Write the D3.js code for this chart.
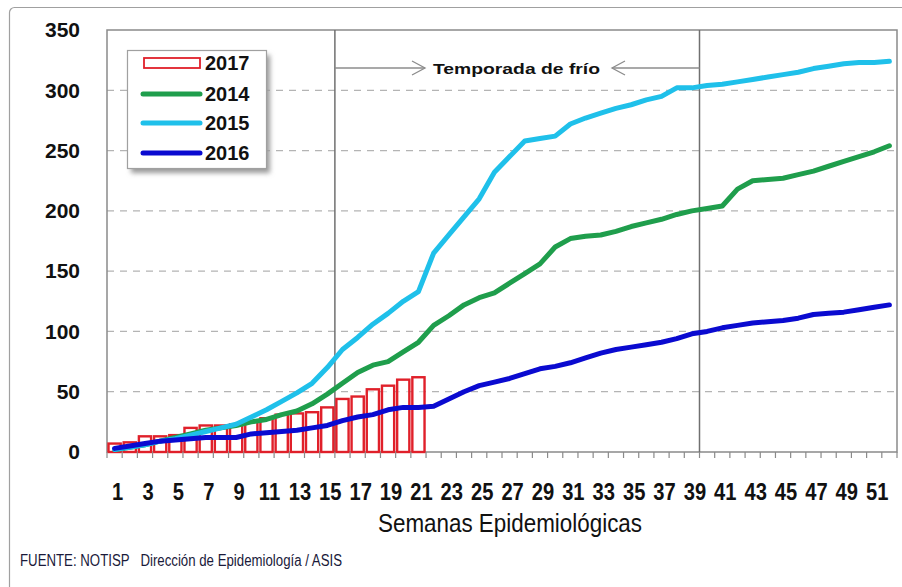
<!DOCTYPE html>
<html><head><meta charset="utf-8">
<script src="https://cdn.jsdelivr.net/npm/d3@7/dist/d3.min.js"></script>
<style>body{margin:0;background:#fff}svg{display:block}</style>
</head><body><div id="chart"></div>
<script>
const weeks = [1,2,3,4,5,6,7,8,9,10,11,12,13,14,15,16,17,18,19,20,21,22,23,24,25,26,27,28,29,30,31,32,33,34,35,36,37,38,39,40,41,42,43,44,45,46,47,48,49,50,51,52];
const xTickLabels = [1,3,5,7,9,11,13,15,17,19,21,23,25,27,29,31,33,35,37,39,41,43,45,47,49,51];
const yTicks = [0,50,100,150,200,250,300,350];
const cases2017 = [7,8,13,13,14,20,22,22,23,25,28,31,32,33,37,44,46,52,55,60,62];
const cases2014 = [2,4,6,9,12,15,18,20,22,25,27,31,34,40,48,57,66,72,75,83,91,105,113,122,128,132,140,148,156,170,177,179,180,183,187,190,193,197,200,202,204,218,225,226,227,230,233,237,241,245,249,254];
const cases2015 = [2,4,6,9,11,14,17,20,23,29,35,42,49,57,70,85,95,106,115,125,133,165,180,195,210,232,245,258,260,262,272,277,281,285,288,292,295,302,302,304,305,307,309,311,313,315,318,320,322,323,323,324];
const cases2016 = [3,5,7,9,10,11,12,12,12,15,16,17,18,20,22,26,29,31,35,37,37,38,44,50,55,58,61,65,69,71,74,78,82,85,87,89,91,94,98,100,103,105,107,108,109,111,114,115,116,118,120,122];
const seasonStartWeek = 16, seasonEndWeek = 40;
const seasonLabel = "Temporada de frío";
const legendLabels = ["2017","2014","2015","2016"];
const xTitle = "Semanas Epidemiológicas";
const sourceNote = "FUENTE: NOTISP   Dirección de Epidemiología / ASIS";

const W = 902, H = 587;
const plot = {l:107, r:897, t:30, b:452};
const col = {bar:"#e0202a", g:"#1f9e4c", c:"#1fc0ea", b:"#0a0ad0"};
const FONT = "'Liberation Sans', Arial, sans-serif";

const svg = d3.select("#chart").append("svg").attr("width",W).attr("height",H)
  .style("font-family",FONT);
svg.append("rect").attr("width",W).attr("height",H).attr("fill","#fff");

// outer frame
svg.append("rect").attr("x",9.5).attr("y",7.5).attr("width",905).attr("height",600)
  .attr("rx",5).attr("fill","none").attr("stroke","#a0a0a0").attr("stroke-width",1.2);

const x = d3.scaleBand().domain(weeks).range([plot.l, plot.r]).paddingInner(0).paddingOuter(0);
const y = d3.scaleLinear().domain([0,350]).range([plot.b, plot.t]);
const cx = w => x(w) + x.bandwidth()/2;

// gridlines
svg.append("g").selectAll("line").data(yTicks.filter(v => v>0 && v<350)).join("line")
  .attr("x1",plot.l).attr("x2",plot.r).attr("y1",d=>y(d)).attr("y2",d=>y(d))
  .attr("stroke","#b4b4b4").attr("stroke-width",1.3).attr("stroke-dasharray","7,6");

// plot border
svg.append("rect").attr("x",plot.l).attr("y",plot.t).attr("width",plot.r-plot.l).attr("height",plot.b-plot.t)
  .attr("fill","none").attr("stroke","#8a8a8a").attr("stroke-width",1.5);

// season vertical lines
svg.append("g").selectAll("line").data([seasonStartWeek, seasonEndWeek]).join("line")
  .attr("x1",d=>x(d)).attr("x2",d=>x(d)).attr("y1",plot.t).attr("y2",plot.b)
  .attr("stroke","#707070").attr("stroke-width",1.5);

// bars 2017
svg.append("g").selectAll("rect").data(cases2017).join("rect")
  .attr("x",(d,i)=>x(weeks[i])+1.5).attr("width",x.bandwidth()-3)
  .attr("y",d=>y(d)).attr("height",d=>y(0)-y(d))
  .attr("fill","#fff").attr("fill-opacity",0.55)
  .attr("stroke",col.bar).attr("stroke-width",2.4);

// lines
const line = d3.line().x((d,i)=>cx(weeks[i])).y(d=>y(d)).curve(d3.curveLinear);
[[cases2014,col.g],[cases2015,col.c],[cases2016,col.b]].forEach(([data,c])=>{
  svg.append("path").datum(data).attr("d",line).attr("fill","none")
    .attr("stroke",c).attr("stroke-width",5).attr("stroke-linejoin","round").attr("stroke-linecap","round");
});

// x boundary ticks
svg.append("g").selectAll("line").data(weeks.concat([null])).join("line")
  .attr("x1",(d,i)=> i<weeks.length ? x(d) : plot.r).attr("x2",(d,i)=> i<weeks.length ? x(d) : plot.r)
  .attr("y1",plot.b).attr("y2",plot.b+6).attr("stroke","#8a8a8a").attr("stroke-width",1.2);

// x axis labels
const xa = svg.append("g").attr("transform",`translate(3,${plot.b})`)
  .call(d3.axisBottom(x).tickValues(xTickLabels).tickSize(0).tickPadding(31));
xa.select(".domain").remove();
xa.selectAll("text").attr("font-family",FONT).attr("font-size",24).attr("font-weight","bold")
  .attr("fill","#111").attr("transform","scale(0.84,1)");

// y axis labels
const ya = svg.append("g").attr("transform",`translate(${plot.l},0)`)
  .call(d3.axisLeft(y).tickValues(yTicks).tickSize(0).tickPadding(27));
ya.select(".domain").remove();
ya.selectAll("text").attr("font-family",FONT).attr("font-size",21).attr("font-weight","bold").attr("fill","#111");

// axis title
svg.append("text").attr("x",510).attr("y",532).attr("text-anchor","middle")
  .attr("font-size",26).attr("fill","#111").attr("textLength",264).attr("lengthAdjust","spacingAndGlyphs")
  .text(xTitle);

// source note
svg.append("text").attr("x",20).attr("y",566).attr("font-size",16).attr("fill","#1a1a3a")
  .style("white-space","pre").attr("textLength",322).attr("lengthAdjust","spacingAndGlyphs")
  .text(sourceNote);

// season annotation
const ay = 68;
const ann = svg.append("g").attr("stroke","#8c8c8c").attr("stroke-width",1.3).attr("fill","none");
ann.append("line").attr("x1",x(seasonStartWeek)).attr("x2",425).attr("y1",ay).attr("y2",ay);
ann.append("polyline").attr("points",`412,${ay-7} 425,${ay} 412,${ay+7}`);
ann.append("line").attr("x1",x(seasonEndWeek)).attr("x2",612).attr("y1",ay).attr("y2",ay);
ann.append("polyline").attr("points",`625,${ay-7} 612,${ay} 625,${ay+7}`);
svg.append("text").attr("x",433).attr("y",ay+6).attr("font-size",15).attr("font-weight","bold")
  .attr("fill","#111").attr("textLength",167).attr("lengthAdjust","spacingAndGlyphs").text(seasonLabel);

// legend
const defs = svg.append("defs");
const f = defs.append("filter").attr("id","sh").attr("x","-20%").attr("y","-20%").attr("width","150%").attr("height","150%");
f.append("feGaussianBlur").attr("stdDeviation",2.5);
const lg = svg.append("g");
lg.append("rect").attr("x",131).attr("y",55).attr("width",139).attr("height",118).attr("fill","#9a9a9a").attr("filter","url(#sh)");
lg.append("rect").attr("x",127.5).attr("y",50.5).attr("width",139).attr("height",118).attr("fill","#fff").attr("stroke","#a0a0a0").attr("stroke-width",1.2);
const legendItems = [
  {label:legendLabels[0], type:"bar", color:col.bar},
  {label:legendLabels[1], type:"line", color:col.g},
  {label:legendLabels[2], type:"line", color:col.c},
  {label:legendLabels[3], type:"line", color:col.b}
];
const lyPos = [63, 94, 123, 153];
legendItems.forEach((it,i)=>{
  const yy = lyPos[i];
  if (it.type==="bar") {
    lg.append("rect").attr("x",144).attr("y",yy-5).attr("width",56).attr("height",10)
      .attr("fill","#fff").attr("stroke",it.color).attr("stroke-width",1.8);
  } else {
    lg.append("line").attr("x1",143).attr("x2",200).attr("y1",yy).attr("y2",yy)
      .attr("stroke",it.color).attr("stroke-width",5).attr("stroke-linecap","round");
  }
  lg.append("text").attr("x",205).attr("y",yy+7).attr("font-size",20).attr("font-weight","bold")
    .attr("fill","#111").text(it.label);
});
</script></body></html>
